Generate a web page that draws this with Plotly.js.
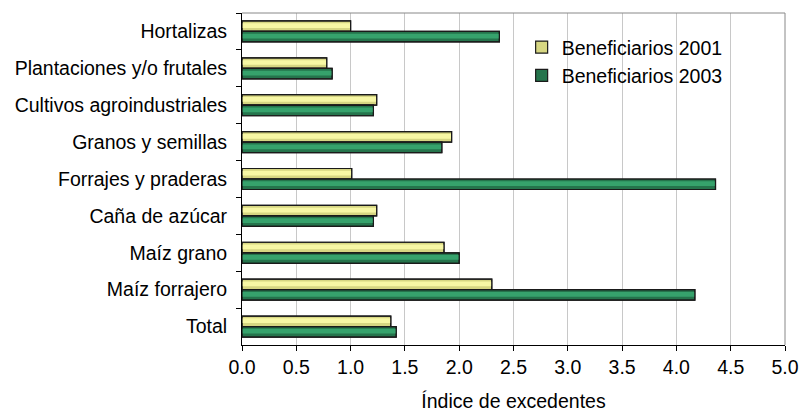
<!DOCTYPE html>
<html>
<head>
<meta charset="utf-8">
<script src="https://cdn.plot.ly/plotly-3.0.1.min.js"></script>
<style>html,body{margin:0;padding:0;background:#fff;}#chart{width:801px;height:412px;}</style>
</head>
<body>
<div id="chart"></div>
<script>
var categories = ["Hortalizas", "Plantaciones y/o frutales", "Cultivos agroindustriales", "Granos y semillas", "Forrajes y praderas", "Caña de azúcar", "Maíz grano", "Maíz forrajero", "Total"];
var seriesNames = ["Beneficiarios 2001", "Beneficiarios 2003"];
var values2001 = [1.00, 0.78, 1.24, 1.93, 1.01, 1.24, 1.86, 2.30, 1.37];
var values2003 = [2.37, 0.83, 1.21, 1.84, 4.36, 1.21, 2.00, 4.17, 1.42];
var xTickVals = [0, 0.5, 1, 1.5, 2, 2.5, 3, 3.5, 4, 4.5, 5];
var xTickText = ["0.0", "0.5", "1.0", "1.5", "2.0", "2.5", "3.0", "3.5", "4.0", "4.5", "5.0"];

var font = {family: "'Liberation Sans', Arial, sans-serif", size: 19.5, color: "#000"};

var W = 0.285; // bar thickness in category units
var outline = {color: "#1a1a1a", width: 1.2};

function series(name, vals, offset, baseColor, bandColor) {
  return [
    {type: "bar", orientation: "h", name: name, y: categories, x: vals,
     width: W, offset: offset, marker: {color: baseColor, line: outline}, hoverinfo: "x+y"},
    {type: "bar", orientation: "h", name: name + " (brillo)", y: categories, x: vals,
     width: W * 0.45, offset: offset + W * 0.22, marker: {color: bandColor, line: {width: 0}},
     showlegend: false, hoverinfo: "skip"},
    {type: "bar", orientation: "h", name: name + " (borde)", y: categories, x: vals,
     width: W, offset: offset, marker: {color: "rgba(0,0,0,0)", line: outline},
     showlegend: false, hoverinfo: "skip"}
  ];
}

var traces = [].concat(
  series(seriesNames[0], values2001, -W, "#d6d682", "#f7f7a4"),
  series(seriesNames[1], values2003, 0, "#25744c", "#36a26c")
);

var layout = {
  width: 801, height: 412,
  margin: {l: 242, r: 16, t: 12.5, b: 67, pad: 0},
  paper_bgcolor: "#fff", plot_bgcolor: "#fff",
  font: font,
  barmode: "overlay",
  showlegend: true,
  legend: {x: 0.515, y: 0.955, xanchor: "left", yanchor: "top", bgcolor: "rgba(0,0,0,0)",
           font: font, tracegroupgap: 0, itemwidth: 30},
  xaxis: {
    range: [0, 5], tickvals: xTickVals, ticktext: xTickText,
    showgrid: true, gridcolor: "#c8c8c8", gridwidth: 1,
    zeroline: false, showline: true, linecolor: "#000", linewidth: 1,
    ticks: "outside", ticklen: 5, tickcolor: "#000",
    title: {text: "Índice de excedentes", font: font, standoff: 29},
    tickfont: font, mirror: false, fixedrange: true
  },
  yaxis: {
    type: "category", autorange: "reversed",
    showgrid: false, zeroline: false, showline: true, linecolor: "#000", linewidth: 1,
    ticks: "outside", ticklen: 5, tickcolor: "#000", tickson: "boundaries",
    ticklabelstandoff: 10,
    tickfont: font, fixedrange: true
  },
  shapes: [
    {type: "line", xref: "paper", yref: "paper", x0: 0, x1: 1, y0: 1, y1: 1, line: {color: "#888", width: 1}},
    {type: "line", xref: "paper", yref: "paper", x0: 1, x1: 1, y0: 0, y1: 1, line: {color: "#888", width: 1}}
  ]
};

Plotly.newPlot("chart", traces, layout, {staticPlot: true, displayModeBar: false});
</script>
</body>
</html>
